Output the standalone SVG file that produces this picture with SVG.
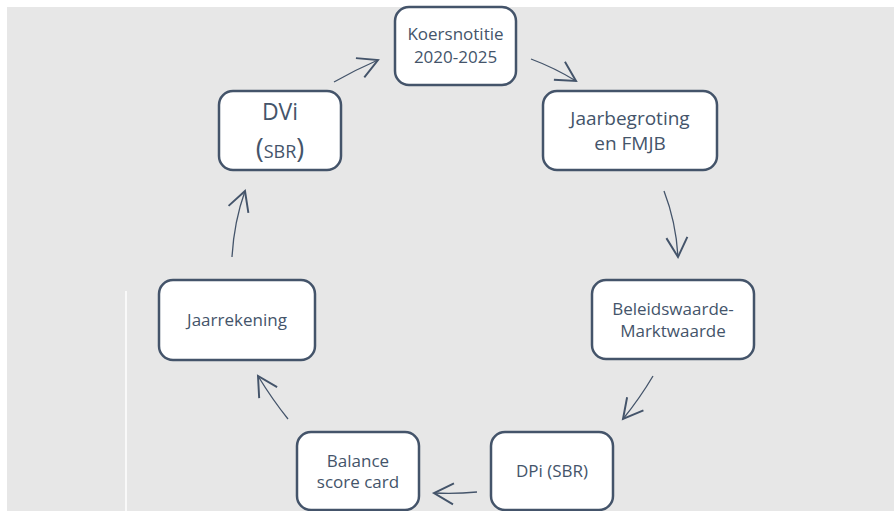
<svg xmlns="http://www.w3.org/2000/svg" width="894" height="511" viewBox="0 0 894 511">
<style>
.box{fill:#ffffff;stroke:#44546a;stroke-width:2.5}
.t{font-family:"Open Sans","Noto Sans",sans-serif;fill:#44546a;text-anchor:middle}
.c{fill:none;stroke:#44546a;stroke-width:1.3;marker-end:url(#ah)}
</style>
<defs>
<marker id="ah" markerUnits="userSpaceOnUse" markerWidth="30" markerHeight="30" refX="0" refY="0" viewBox="-16 -10 20 20" orient="auto">
<path d="M-13,-7 L0,0 L-13,7" fill="none" stroke="#44546a" stroke-width="1.3"/>
</marker>
</defs>
<rect x="7" y="7" width="887" height="504" fill="#e7e7e7"/>
<line x1="126" y1="291" x2="126" y2="511" stroke="#ffffff" stroke-width="1.5"/>
<g id="connectors">
<path class="c" d="M334,82 Q355,70 378,60"/>
<path class="c" d="M531,59 Q555,68 576,81"/>
<path class="c" d="M664,191 Q676,222 678,257"/>
<path class="c" d="M653,376 Q640,398 623,419"/>
<path class="c" d="M477,492 Q456,494 434,493"/>
<path class="c" d="M288,419 Q272,399 258,376"/>
<path class="c" d="M232,257 Q234,222 245,191"/>
</g>
<g id="koersnotitie">
<rect class="box" x="395" y="7" width="121" height="78" rx="14"/>
<text class="t" x="455.5" y="40" font-size="17">Koersnotitie</text>
<text class="t" x="455.5" y="63" font-size="17">2020-2025</text>
</g>
<g id="jaarbegroting">
<rect class="box" x="543" y="91" width="174" height="79" rx="14"/>
<text class="t" x="630" y="125" font-size="19">Jaarbegroting</text>
<text class="t" x="630" y="150" font-size="19">en FMJB</text>
</g>
<g id="beleidswaarde">
<rect class="box" x="592" y="280" width="162" height="79" rx="14"/>
<text class="t" x="673" y="315" font-size="17">Beleidswaarde-</text>
<text class="t" x="673" y="337" font-size="17">Marktwaarde</text>
</g>
<g id="dpi">
<rect class="box" x="491" y="432" width="122" height="78" rx="14"/>
<text class="t" x="552" y="477" font-size="17">DPi (SBR)</text>
</g>
<g id="balance">
<rect class="box" x="297" y="432" width="122" height="78" rx="14"/>
<text class="t" x="358" y="467" font-size="17">Balance</text>
<text class="t" x="358" y="488" font-size="17">score card</text>
</g>
<g id="jaarrekening">
<rect class="box" x="159" y="280" width="156" height="80" rx="14"/>
<text class="t" x="237" y="326" font-size="17">Jaarrekening</text>
</g>
<g id="dvi">
<rect class="box" x="219" y="91" width="122" height="79" rx="14"/>
<text class="t" x="280" y="120" font-size="23">DVi</text>
<text class="t" x="280" y="158"><tspan font-size="27">(</tspan><tspan font-size="18">SBR</tspan><tspan font-size="27">)</tspan></text>
</g>
</svg>
